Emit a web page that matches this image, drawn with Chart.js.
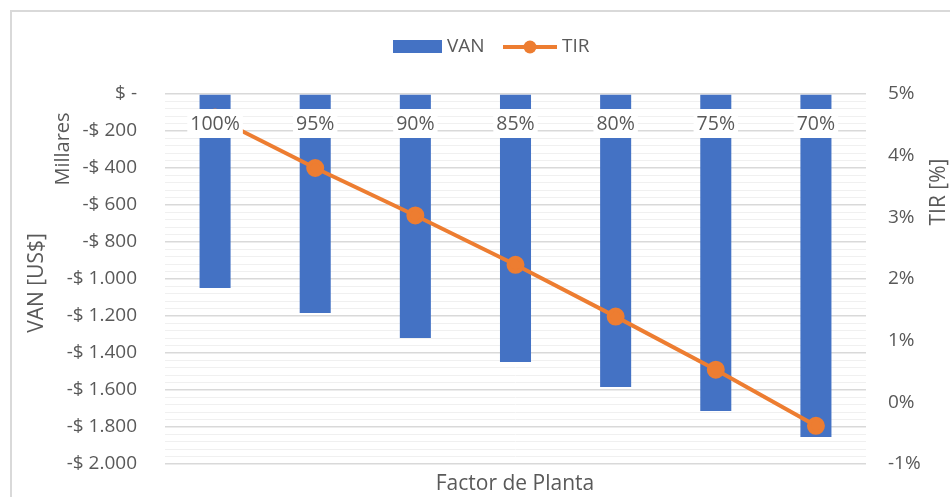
<!DOCTYPE html>
<html>
<head>
<meta charset="utf-8">
<script src="https://cdn.jsdelivr.net/npm/chart.js@4.4.1/dist/chart.umd.min.js"></script>
<style>
  html, body { margin: 0; padding: 0; background: #fff; }
  canvas { display: block; }
</style>
</head>
<body>
<canvas id="chart" width="950" height="497"></canvas>
<script>
// data
const categories = ["100%", "95%", "90%", "85%", "80%", "75%", "70%"];
const vanValues = [-1049, -1184, -1319, -1449, -1584, -1714, -1854]; // miles de US$
const tirValues = [4.62, 3.8, 3.03, 2.23, 1.39, 0.53, -0.38]; // %

const blue = "#4472c4";
const orange = "#ed7d31";
const textGrey = "#595959";
const fontFamily = "'Open Sans', sans-serif";

const fmtVan = (v) => {
  v = Math.round(v);
  if (v === 0) return "$ -";
  const n = Math.abs(v).toString().replace(/\B(?=(\d{3})+(?!\d))/g, ".");
  return (v < 0 ? "-$ " : "$ ") + n;
};

// extra drawing: border, legend, category labels on top of the series, titles
const decorPlugin = {
  id: "decor",
  beforeDraw(chart) {
    const c = chart.ctx;
    c.save();
    c.strokeStyle = "#d9d9d9";
    c.lineWidth = 2;
    c.strokeRect(11, 11, 960, 500);
    c.restore();
  },
  afterDatasetsDraw(chart) {
    const c = chart.ctx;
    const x = chart.scales.x;
    c.save();
    c.font = "19.5px " + fontFamily;
    c.textAlign = "center";
    c.textBaseline = "middle";
    categories.forEach((lab, i) => {
      const px = x.getPixelForValue(i);
      const w = c.measureText(lab).width;
      c.fillStyle = "#fff";
      c.fillRect(px - w / 2 - 3, 109, w + 6, 29);
      c.fillStyle = textGrey;
      c.fillText(lab, px, 124);
    });
    c.restore();
  },
  afterDraw(chart) {
    const c = chart.ctx;
    c.save();
    c.fillStyle = textGrey;
    c.textBaseline = "middle";

    // legend
    c.fillStyle = blue;
    c.fillRect(393, 40, 49, 13);
    c.strokeStyle = orange;
    c.lineWidth = 4;
    c.beginPath();
    c.moveTo(503, 47);
    c.lineTo(557, 47);
    c.stroke();
    c.fillStyle = orange;
    c.beginPath();
    c.arc(530, 47, 6.5, 0, Math.PI * 2);
    c.fill();
    c.fillStyle = textGrey;
    c.font = "19px " + fontFamily;
    c.textAlign = "left";
    c.fillText("VAN", 447, 47);
    c.fillText("TIR", 562, 47);

    // x title
    c.font = "21px " + fontFamily;
    c.textAlign = "center";
    c.fillText("Factor de Planta", 515, 484);

    // left title + display units
    c.save();
    c.translate(37, 283);
    c.rotate(-Math.PI / 2);
    c.fillText("VAN [US$]", 0, 0);
    c.restore();
    c.save();
    c.font = "20px " + fontFamily;
    c.translate(63, 149);
    c.rotate(-Math.PI / 2);
    c.fillText("Millares", 0, 0);
    c.restore();

    // right title
    c.save();
    c.translate(939, 192);
    c.rotate(-Math.PI / 2);
    c.fillText("TIR [%]", 0, 0);
    c.restore();
    c.restore();
  }
};

const ctx = document.getElementById("chart").getContext("2d");
const myChart = new Chart(ctx, {
  type: "bar",
  data: {
    labels: categories,
    datasets: [
      {
        type: "line",
        label: "TIR",
        data: tirValues,
        yAxisID: "y1",
        borderColor: orange,
        backgroundColor: orange,
        borderWidth: 4,
        pointRadius: 7,
        pointBackgroundColor: orange,
        pointBorderColor: orange,
        tension: 0,
        order: 0,
      },
      {
        type: "bar",
        label: "VAN",
        data: vanValues,
        yAxisID: "y",
        backgroundColor: blue,
        barPercentage: 0.31,
        categoryPercentage: 1,
        order: 1,
      },
    ],
  },
  options: {
    responsive: false,
    animation: false,
    devicePixelRatio: 1,
    layout: { padding: { top: 94, bottom: 33, left: 0, right: 0 } },
    plugins: {
      legend: { display: false },
      tooltip: { enabled: false },
    },
    scales: {
      x: {
        display: false,
      },
      y: {
        position: "left",
        min: -2000,
        max: 0,
        afterFit: (scale) => {
          scale.width = 165;
          scale.paddingTop = 0;
          scale.paddingBottom = 0;
        },
        border: { display: false },
        grid: {
          drawTicks: false,
          color: (c) => (c.tick && Math.round(c.tick.value) % 200 === 0 ? "#d9d9d9" : "#f0f0f0"),
          lineWidth: (c) => (c.tick && Math.round(c.tick.value) % 200 === 0 ? 1.5 : 1),
        },
        ticks: {
          stepSize: 40,
          autoSkip: false,
          padding: 28,
          color: textGrey,
          font: { family: fontFamily, size: 19 },
          callback: (v) => (Math.round(v) % 200 === 0 ? fmtVan(v) : ""),
        },
      },
      y1: {
        position: "right",
        min: -1,
        max: 5,
        afterFit: (scale) => {
          scale.width = 84;
          scale.paddingTop = 0;
          scale.paddingBottom = 0;
        },
        border: { display: false },
        grid: { display: false, drawTicks: false },
        ticks: {
          stepSize: 1,
          padding: 22,
          color: textGrey,
          font: { family: fontFamily, size: 19 },
          callback: (v) => Math.round(v) + "%",
        },
      },
    },
  },
  plugins: [decorPlugin],
});
</script>
</body>
</html>
